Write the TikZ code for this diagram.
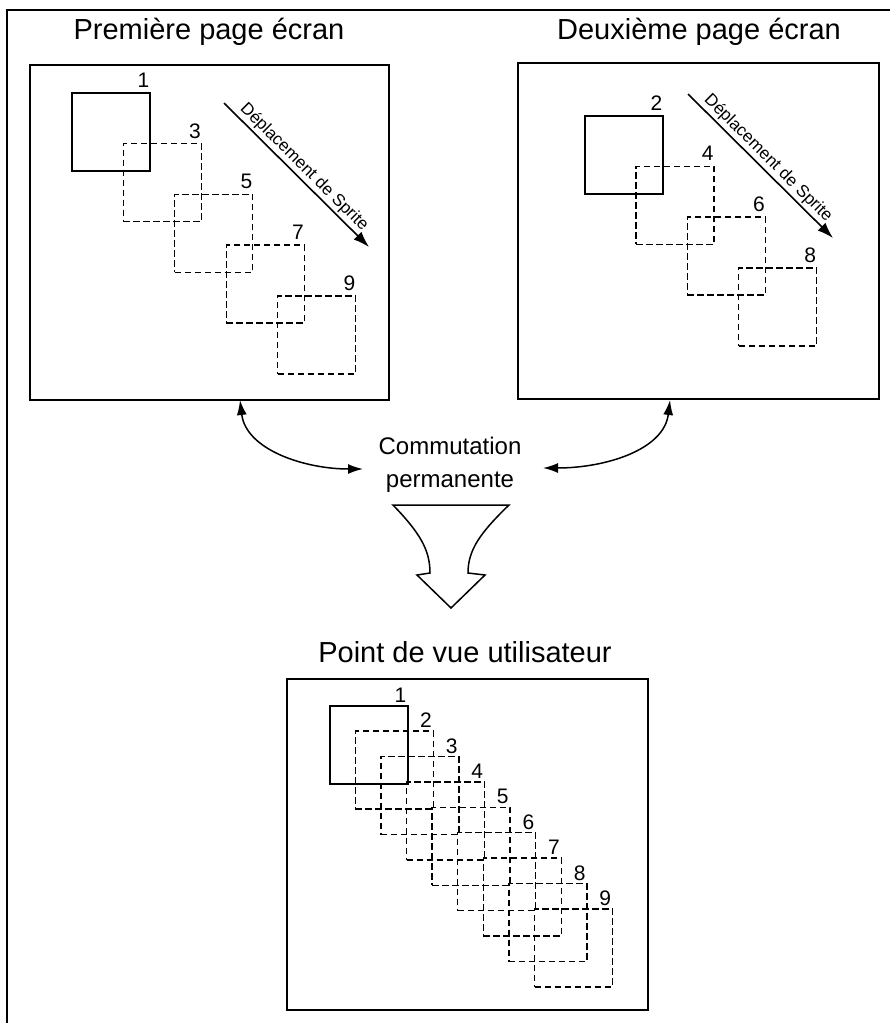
\documentclass[tikz,border=0pt]{standalone}
\usepackage{fontspec}
\setmainfont{Liberation Sans}
\usetikzlibrary{arrows.meta,calc}
\begin{document}
\begin{tikzpicture}[x=1pt,y=-1pt,
  screen/.style={draw, line width=1.7pt, inner sep=0pt, anchor=north west},
  solidsq/.style={draw, line width=1.5pt, minimum size=78pt, inner sep=0pt, anchor=north west},
  dashsq/.style={solidsq, line width=1.4pt, dash pattern=on 6.5pt off 3.5pt},
  num/.style={font=\fontsize{21}{21}\selectfont, inner sep=0pt},
  title/.style={font=\fontsize{29}{29}\selectfont, inner sep=0pt, anchor=base},
  movetext/.style={font=\fontsize{17}{17}\selectfont, inner sep=2pt},
  movearrow/.style={line width=1.6pt, -{Latex[length=16pt,width=11pt]}},
  swap/.style={line width=1.5pt, {Latex[length=15pt,width=10pt]}-{Latex[length=15pt,width=10pt]}},
]
\path[use as bounding box] (0,0) rectangle (890,1023);

% outer frame (left and top edges)
\draw[line width=1.7pt] (7,1023) -- (7,10) -- (890,10);

% ---------- first screen page ----------
\node[title] (t1) at (209,39) {Première page écran};
\node[screen, minimum width=359pt, minimum height=335pt] (p1) at (29,64) {};
\node[solidsq] (a1) at (71,92) {};
\foreach \k/\n in {1/3,2/5,3/7,4/9}{
  \node[dashsq] (a\n) at ({71+51.5*\k},{92+50.8*\k}) {};
}
\foreach \n in {1,3,5,7,9}{
  \node[num] at ($(a\n.north east)+(-7,-12)$) {\n};
}
\coordinate (m1s) at (224,103);
\coordinate (m1e) at (369,247);
\draw[movearrow] (m1s) -- node[movetext, sloped, above] {Déplacement de Sprite} (m1e);

% ---------- second screen page ----------
\node[title] (t2) at (699,39) {Deuxième page écran};
\node[screen, minimum width=361pt, minimum height=336pt] (p2) at (517,62) {};
\node[solidsq] (b2) at (584,115) {};
\foreach \k/\n in {1/4,2/6,3/8}{
  \node[dashsq] (b\n) at ({584+51.3*\k},{115+50.7*\k}) {};
}
\foreach \n in {2,4,6,8}{
  \node[num] at ($(b\n.north east)+(-7,-12)$) {\n};
}
\coordinate (m2s) at (688,94);
\coordinate (m2e) at (833,238);
\draw[movearrow] (m2s) -- node[movetext, sloped, above] {Déplacement de Sprite} (m2e);

% ---------- permanent switching ----------
\node[align=center, inner sep=0pt, font=\fontsize{24}{33}\selectfont] (comm) at (450,465)
  {Commutation\\permanente};
\coordinate (l1) at (240,400);
\coordinate (l2) at (363,469);
\coordinate (r1) at (670,400);
\coordinate (r2) at (543,468);
\draw[swap] (l1) .. controls (246,450) and (305,469) .. (l2);
\draw[swap] (r1) .. controls (664,450) and (605,468) .. (r2);

% funnel-shaped arrow
\draw[line width=1.5pt, line join=miter]
  (393,505) -- (509,505)
  .. controls (480,533) and (468,550) .. (468,573)
  -- (485,575) -- (451,608) -- (417,575) -- (430,573)
  .. controls (430,550) and (420,533) .. cycle;

% ---------- user view ----------
\node[title] (t3) at (465,662) {Point de vue utilisateur};
\node[screen, minimum width=361pt, minimum height=331pt] (p3) at (286,678) {};
\node[solidsq] (c1) at (329,705) {};
\foreach \n in {2,...,9}{
  \node[dashsq] (c\n) at ({329+25.6*(\n-1)},{705+25.4*(\n-1)}) {};
}
\foreach \n in {1,...,9}{
  \node[num] at ($(c\n.north east)+(-8,-10)$) {\n};
}
\end{tikzpicture}
\end{document}
